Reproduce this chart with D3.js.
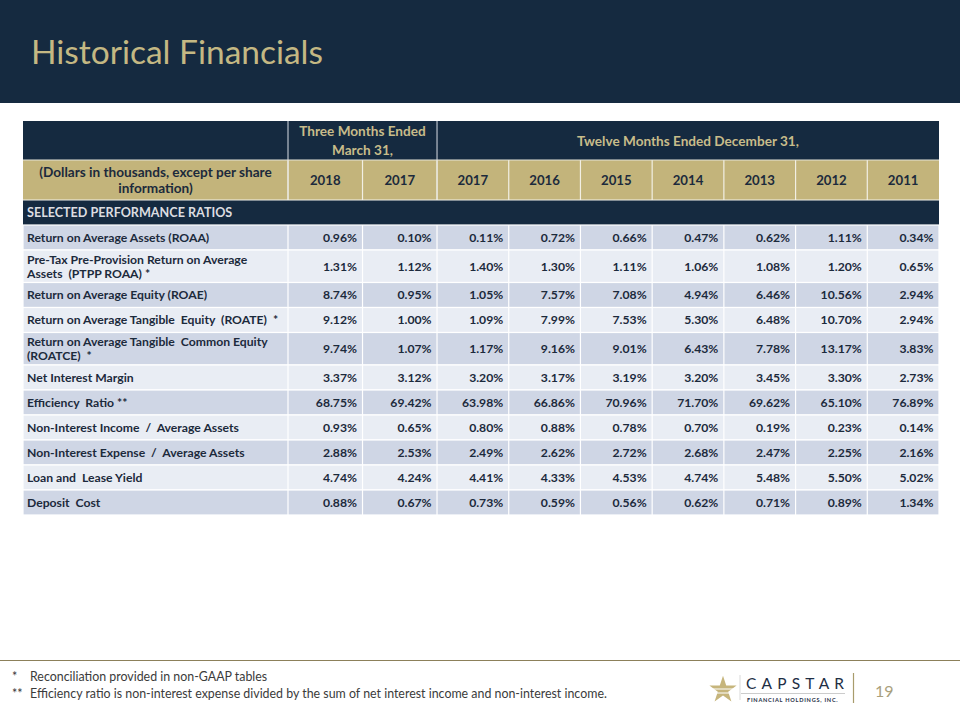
<!DOCTYPE html>
<html><head><meta charset="utf-8">
<script src="https://cdn.jsdelivr.net/npm/d3@7"></script>
<style>body{margin:0;background:#fff}svg{display:block}text{font-family:Lato,"Open Sans",sans-serif}</style>
</head><body>
<script>
// ---- data ----
const title = "Historical Financials";
const periodGroups = ["Three Months Ended|March 31,", "Twelve Months Ended December 31,"];
const periodSpans = [2, 7];
const years = ["2018","2017","2017","2016","2015","2014","2013","2012","2011"];
const unitLabel = "(Dollars in thousands, except per share|information)";
const sectionLabel = "SELECTED PERFORMANCE RATIOS";
const metrics = [
  "Return on Average Assets (ROAA)",
  "Pre-Tax Pre-Provision Return on Average|Assets  (PTPP ROAA) *",
  "Return on Average Equity (ROAE)",
  "Return on Average Tangible  Equity  (ROATE)  *",
  "Return on Average Tangible  Common Equity|(ROATCE)  *",
  "Net Interest Margin",
  "Efficiency  Ratio **",
  "Non-Interest Income  /  Average Assets",
  "Non-Interest Expense  /  Average Assets",
  "Loan and  Lease Yield",
  "Deposit  Cost"
];
const roaa     = [0.96, 0.10, 0.11, 0.72, 0.66, 0.47, 0.62, 1.11, 0.34];
const ptppRoaa = [1.31, 1.12, 1.40, 1.30, 1.11, 1.06, 1.08, 1.20, 0.65];
const roae     = [8.74, 0.95, 1.05, 7.57, 7.08, 4.94, 6.46, 10.56, 2.94];
const roate    = [9.12, 1.00, 1.09, 7.99, 7.53, 5.30, 6.48, 10.70, 2.94];
const roatce   = [9.74, 1.07, 1.17, 9.16, 9.01, 6.43, 7.78, 13.17, 3.83];
const nim      = [3.37, 3.12, 3.20, 3.17, 3.19, 3.20, 3.45, 3.30, 2.73];
const efficiency = [68.75, 69.42, 63.98, 66.86, 70.96, 71.70, 69.62, 65.10, 76.89];
const nonIntIncome = [0.93, 0.65, 0.80, 0.88, 0.78, 0.70, 0.19, 0.23, 0.14];
const nonIntExpense = [2.88, 2.53, 2.49, 2.62, 2.72, 2.68, 2.47, 2.25, 2.16];
const loanYield = [4.74, 4.24, 4.41, 4.33, 4.53, 4.74, 5.48, 5.50, 5.02];
const depositCost = [0.88, 0.67, 0.73, 0.59, 0.56, 0.62, 0.71, 0.89, 1.34];
const footnotes = [["*", "Reconciliation provided in non-GAAP tables"],
  ["**", "Efficiency ratio is non-interest expense divided by the sum of net interest income and non-interest income."]];
const pageNumber = "19";

const seriesRows = [roaa, ptppRoaa, roae, roate, roatce, nim, efficiency, nonIntIncome, nonIntExpense, loanYield, depositCost];

// ---- styles ----
const NAVY = "#152a40", GOLD = "#c3b47b", GOLDTXT = "#c8bc8a", DARKROW = "#cfd6e5", LIGHTROW = "#e9edf4", TXT = "#1c2a3c";
const BODYFS = 12.2, HEADFS = 13.6;

const W = 960, H = 720;
const svg = d3.select("body").append("svg").attr("width", W).attr("height", H);

// title bar
svg.append("rect").attr("x",0).attr("y",0).attr("width",W).attr("height",103).attr("fill",NAVY);
svg.append("text").attr("x",31).attr("y",64).attr("fill","#c4b883")
  .attr("font-size",33).attr("textLength",292).attr("lengthAdjust","spacingAndGlyphs").text(title);

// ---- scales ----
const tableLeft = 23, labelRight = 288, tableRight = 939;
const colWeights = years.map((d,i)=> i<2 ? 74.5 : 71.7);
const xw = d3.scaleLinear().domain([0, d3.sum(colWeights)]).range([labelRight, tableRight]);
const colEdges = [0, ...d3.cumsum(colWeights)].map(xw);
const xCol = d3.scaleOrdinal().domain(d3.range(years.length)).range(colEdges.slice(0,-1));
const colW = i => colEdges[i+1]-colEdges[i];

// rows
const headerRows = [39, 40, 25];
const bodyHeights = metrics.map(m => m.includes("|") ? 32.5 : 25);
const tableTop = 121;
const bodyTop = tableTop + d3.sum(headerRows);
const yRow = d3.scaleOrdinal().domain(d3.range(metrics.length))
  .range([0, ...d3.cumsum(bodyHeights)].slice(0,-1).map(v => bodyTop + v));

const g = svg.append("g");

// header rows
const h1y = tableTop, h2y = tableTop + headerRows[0], h3y = h2y + headerRows[1];
g.append("rect").attr("x",tableLeft).attr("y",h1y).attr("width",tableRight-tableLeft).attr("height",headerRows[0]).attr("fill",NAVY);
g.append("rect").attr("x",tableLeft).attr("y",h2y).attr("width",tableRight-tableLeft).attr("height",headerRows[1]).attr("fill",GOLD);
g.append("rect").attr("x",tableLeft).attr("y",h3y).attr("width",tableRight-tableLeft).attr("height",headerRows[2]).attr("fill",NAVY);

// group headers
let startIdx = 0;
periodGroups.forEach((grp, gi) => {
  const x0 = colEdges[startIdx], x1 = colEdges[startIdx + periodSpans[gi]];
  const lines = grp.split("|");
  const cy = h1y + headerRows[0]/2;
  lines.forEach((ln, li) => {
    g.append("text").attr("x",(x0+x1)/2).attr("y", cy + (li - (lines.length-1)/2)*19.5 + 5)
      .attr("text-anchor","middle").attr("font-size",HEADFS).attr("font-weight",700).attr("fill",GOLDTXT).text(ln);
  });
  g.append("line").attr("x1",x0).attr("x2",x0).attr("y1",h1y).attr("y2",h3y).attr("stroke","#d9dde4").attr("stroke-width",1);
  startIdx += periodSpans[gi];
});

// unit label
unitLabel.split("|").forEach((ln, li, arr) => {
  g.append("text").attr("x",(tableLeft+labelRight)/2).attr("y", h2y + headerRows[1]/2 + (li-(arr.length-1)/2)*16 + 5)
    .attr("text-anchor","middle").attr("font-size",HEADFS).attr("font-weight",700).attr("fill",TXT).text(ln);
});
// year headers
g.selectAll(".yr").data(years).join("text")
  .attr("x",(d,i)=> xCol(i)+colW(i)/2).attr("y", h2y + headerRows[1]/2 + 5)
  .attr("text-anchor","middle").attr("font-size",13.2).attr("font-weight",700).attr("fill",TXT).text(d=>d);
g.selectAll(".yrsep").data(d3.range(years.length+1)).join("line")
  .attr("x1",i=>colEdges[i]).attr("x2",i=>colEdges[i]).attr("y1",h2y).attr("y2",h3y)
  .attr("stroke","#f2efe4").attr("stroke-width",1.2).attr("opacity",i=> i===years.length?0:1);
g.append("line").attr("x1",tableLeft).attr("x2",tableRight).attr("y1",h2y).attr("y2",h2y).attr("stroke","#e6e3d8").attr("stroke-width",1.2);
g.append("line").attr("x1",tableLeft).attr("x2",tableRight).attr("y1",h3y).attr("y2",h3y).attr("stroke","#f4f2ea").attr("stroke-width",1.2);

// section label
g.append("text").attr("x",27).attr("y",h3y + headerRows[2]/2 + 4.5).attr("font-size",12.6).attr("font-weight",700)
  .attr("fill","#dcdde0").text(sectionLabel);

// body rows
const rows = g.selectAll(".row").data(metrics).join("g").attr("class","row");
rows.append("rect").attr("x",tableLeft).attr("y",(d,i)=>yRow(i)).attr("width",tableRight-tableLeft)
  .attr("height",(d,i)=>bodyHeights[i]).attr("fill",(d,i)=> i%2===0 ? DARKROW : LIGHTROW)
  .attr("stroke","#ffffff").attr("stroke-width",1.2);
rows.each(function(label, i){
  const r = d3.select(this);
  const cy = yRow(i) + bodyHeights[i]/2;
  const lines = label.split("|");
  lines.forEach((ln, li) => {
    r.append("text").attr("x",27).attr("y", cy + (li-(lines.length-1)/2)*14 + 4.3)
      .attr("font-size",BODYFS).attr("font-weight",700).attr("fill",TXT).style("white-space","pre").text(ln);
  });
  r.selectAll(".v").data(seriesRows[i]).join("text")
    .attr("x",(d,j)=> colEdges[j+1]-5.5).attr("y", cy + 4.3)
    .attr("text-anchor","end").attr("font-size",BODYFS).attr("font-weight",700).attr("fill",TXT)
    .text(d => d.toFixed(2) + "%");
  r.selectAll(".sep").data(d3.range(years.length)).join("line")
    .attr("x1",j=>colEdges[j]).attr("x2",j=>colEdges[j]).attr("y1",yRow(i)).attr("y2",yRow(i)+bodyHeights[i])
    .attr("stroke","#ffffff").attr("stroke-width",1.2);
});

// footer line
svg.append("line").attr("x1",0).attr("x2",W).attr("y1",660.5).attr("y2",660.5).attr("stroke","#8c805a").attr("stroke-width",1.2);
footnotes.forEach((f, i) => {
  svg.append("text").attr("x",12).attr("y",681 + i*16.5).attr("font-size",12.4).attr("fill","#3b3b3b").text(f[0]);
  svg.append("text").attr("x",30).attr("y",681 + i*16.5).attr("font-size",12.4).attr("fill","#3b3b3b").text(f[1]);
});

// logo
const logo = svg.append("g");
logo.append("path").attr("d", d3.symbol(d3.symbolStar, 230)()).attr("transform","translate(723,690)").attr("fill","#c6b57c");
logo.append("line").attr("x1",713).attr("x2",736).attr("y1",689).attr("y2",689).attr("stroke","#fff").attr("stroke-width",1);
logo.append("line").attr("x1",715).attr("x2",736).attr("y1",693).attr("y2",693).attr("stroke","#fff").attr("stroke-width",1);
logo.append("line").attr("x1",740).attr("x2",740).attr("y1",675).attr("y2",700).attr("stroke","#cfcfcf").attr("stroke-width",0.8);
logo.append("text").attr("x",746).attr("y",689).attr("font-size",15.5).attr("font-weight",400).attr("fill","#1e2e44")
  .attr("letter-spacing",5.2).text("CAPSTAR");
logo.append("line").attr("x1",741).attr("x2",845).attr("y1",693.5).attr("y2",693.5).attr("stroke","#bfbfbf").attr("stroke-width",0.8);
logo.append("text").attr("x",747).attr("y",702).attr("font-size",5.6).attr("font-weight",700).attr("fill","#1e2e44")
  .attr("letter-spacing",0.75).text("FINANCIAL HOLDINGS, INC.");
logo.append("line").attr("x1",853.5).attr("x2",853.5).attr("y1",673).attr("y2",703).attr("stroke","#a89c6c").attr("stroke-width",1.2);
svg.append("text").attr("x",875).attr("y",697).attr("font-size",16).attr("fill","#a9a07c").text(pageNumber);
</script>
</body></html>
